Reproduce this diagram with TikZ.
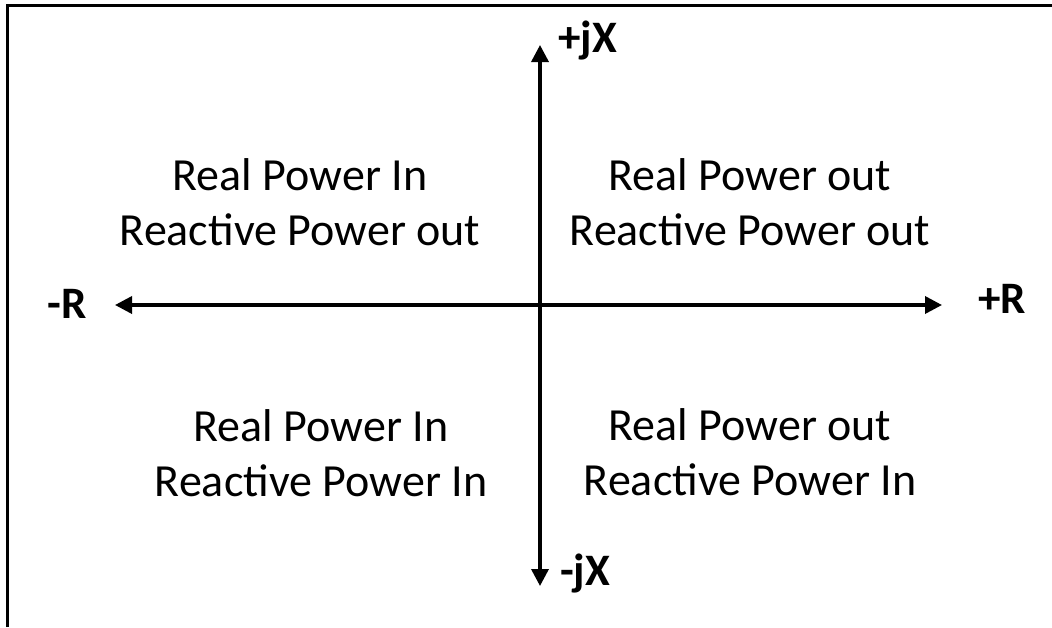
\documentclass[tikz,border=0pt]{standalone}
\usepackage{fontspec}
\setmainfont{Carlito}
\usepackage{tikz}
\usetikzlibrary{arrows.meta, positioning}

\begin{document}
\begin{tikzpicture}[
  x=1pt, y=-1pt,
  quad/.style={inner sep=0pt,font=\fontsize{46}{55}\selectfont,align=center},
  axlab/.style={inner sep=0pt,font=\fontsize{45}{54}\selectfont\bfseries},
  axis/.style={line width=3.5pt,{Triangle[length=17pt,width=17pt]}-{Triangle[length=17pt,width=17pt]}},
  frame/.style={line width=3pt},
]
\useasboundingbox (0,0) rectangle (1052,627);
% cut-off frame, only top and left edges
\draw[frame] (7,627) -- (7,5.5) -- (1052,5.5);

% axes
\coordinate (w) at (115,305);
\coordinate (e) at (942,305);
\coordinate (n) at (540,45);
\coordinate (s) at (540,586);
\draw[axis] (w) -- (e);
\draw[axis] (s) -- (n);

\node[axlab, anchor=base west] (pjx) at (558,52)  {+jX};
\node[axlab, anchor=base west] (mjx) at (560,585) {-jX};
\node[axlab, anchor=base east] (mr)  at (87,318)  {-R};
\node[axlab, anchor=base west] (pr)  at (978,313) {+R};

% quadrants
\node[quad] (q2) at (300,202) {Real Power In\\Reactive Power out};
\node[quad] (q1) at (750,202) {Real Power out\\Reactive Power out};
\node[quad] (q3) at (321,453) {Real Power In\\Reactive Power In};
\node[quad] (q4) at (750,452) {Real Power out\\Reactive Power In};
\end{tikzpicture}
\end{document}
